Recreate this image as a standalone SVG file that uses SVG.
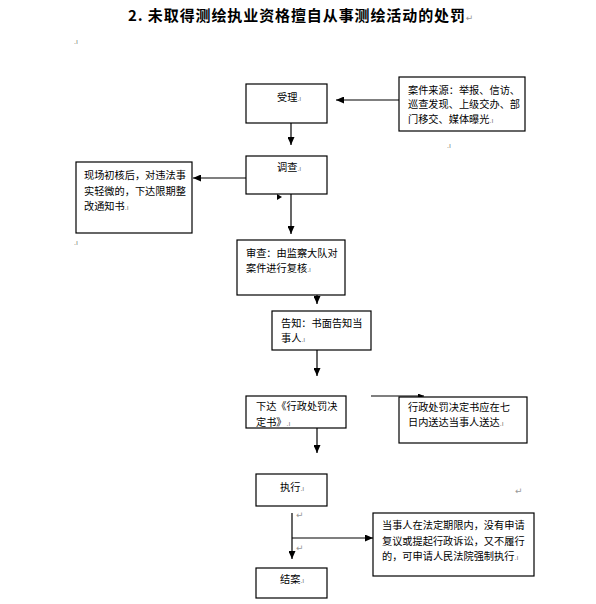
<svg xmlns="http://www.w3.org/2000/svg" width="596" height="604" viewBox="0 0 596 604">
<style>
.box{fill:#fff;stroke:#000;stroke-width:1.2}
.t{font-family:"Noto Sans CJK SC","Liberation Sans",sans-serif;font-size:10.2px;fill:#000}
.title{font-family:"Noto Sans CJK SC","Liberation Sans",sans-serif;font-size:15px;font-weight:bold;fill:#000;letter-spacing:0.9px}
.pm{font-family:"Liberation Sans",sans-serif;font-size:7px;fill:#777}
.ret{font-family:"DejaVu Sans",sans-serif;font-size:9px;fill:#999}
.c{fill:none;stroke:#000;stroke-width:1.2}
</style>
<defs>
<marker id="ah" markerUnits="userSpaceOnUse" markerWidth="8" markerHeight="7" refX="8" refY="3.5" orient="auto">
<path d="M0,0 L8,3.5 L0,7 z" fill="#000"/>
</marker>
<marker id="ahs" markerUnits="userSpaceOnUse" markerWidth="6" markerHeight="5" refX="6" refY="2.5" orient="auto">
<path d="M0,0 L6,2.5 L0,5 z" fill="#000"/>
</marker>
</defs>
<rect width="596" height="604" fill="#fff"/>
<text class="title" x="128" y="21">2. 未取得测绘执业资格擅自从事测绘活动的处罚<tspan class="ret" font-weight="normal">↵</tspan></text>
<text class="pm" x="74" y="44">.ı</text>
<text class="pm" x="447" y="148">.ı</text>
<text class="pm" x="74" y="245">.ı</text>
<text class="ret" x="515" y="494">↵</text>
<text class="ret" x="296" y="518">↵</text>
<text class="ret" x="296" y="551">↵</text>

<g id="connectors">
<line class="c" x1="399" y1="100" x2="336" y2="100" marker-end="url(#ah)"/>
<line class="c" x1="291" y1="123" x2="291" y2="145" marker-end="url(#ah)"/>
<line class="c" x1="246" y1="178" x2="193" y2="178" marker-end="url(#ah)"/>
<line class="c" x1="291" y1="194" x2="291" y2="234" marker-end="url(#ah)"/>
<polygon points="277,194 282,197 277,200" fill="#000"/>
<line class="c" x1="317" y1="295" x2="317" y2="304" marker-end="url(#ah)"/>
<line class="c" x1="317" y1="350" x2="317" y2="376" marker-end="url(#ah)"/>
<line class="c" x1="371" y1="396" x2="424" y2="396" marker-end="url(#ahs)"/>
<line class="c" x1="317" y1="428" x2="317" y2="453" marker-end="url(#ah)"/>
<line class="c" x1="292" y1="513" x2="292" y2="559" marker-end="url(#ah)"/>
<line class="c" x1="292" y1="538" x2="373" y2="538" marker-end="url(#ah)"/>
</g>

<g id="n_accept">
<rect class="box" x="246" y="84" width="81" height="39"/>
<text class="t" x="277" y="101">受理<tspan class="pm">.ı</tspan></text>
</g>
<g id="n_source">
<rect class="box" x="399" y="77" width="126" height="54"/>
<text class="t" x="408" y="94">案件来源：举报、信访、</text>
<text class="t" x="408" y="108">巡查发现、上级交办、部</text>
<text class="t" x="408" y="123">门移交、媒体曝光<tspan class="pm">.ı</tspan></text>
</g>
<g id="n_investigate">
<rect class="box" x="246" y="156" width="81" height="38"/>
<text class="t" x="277" y="171">调查<tspan class="pm">.ı</tspan></text>
</g>
<g id="n_rectify">
<rect class="box" x="76" y="162" width="116" height="71"/>
<text class="t" x="84" y="179">现场初核后，对违法事</text>
<text class="t" x="84" y="195">实轻微的，下达限期整</text>
<text class="t" x="84" y="210">改通知书<tspan class="pm">.ı</tspan></text>
</g>
<g id="n_review">
<rect class="box" x="237" y="240" width="108" height="55"/>
<text class="t" x="246" y="257">审查：由监察大队对</text>
<text class="t" x="246" y="272">案件进行复核<tspan class="pm">.ı</tspan></text>
</g>
<g id="n_notify">
<rect class="box" x="272" y="311" width="99" height="39"/>
<text class="t" x="281" y="327">告知：书面告知当</text>
<text class="t" x="281" y="342">事人<tspan class="pm">.ı</tspan></text>
</g>
<g id="n_decision">
<rect class="box" x="246" y="396" width="100" height="32"/>
<text class="t" x="256" y="410">下达《行政处罚决</text>
<text class="t" x="256" y="426">定书》<tspan class="pm">.ı</tspan></text>
</g>
<g id="n_deliver">
<rect class="box" x="399" y="397" width="128" height="46"/>
<text class="t" x="408" y="411">行政处罚决定书应在七</text>
<text class="t" x="408" y="426">日内送达当事人送达<tspan class="pm">.ı</tspan></text>
</g>
<g id="n_execute">
<rect class="box" x="256" y="474" width="71" height="32"/>
<text class="t" x="280" y="491">执行<tspan class="pm">.ı</tspan></text>
</g>
<g id="n_enforce">
<rect class="box" x="373" y="513" width="161" height="63"/>
<text class="t" x="382" y="529">当事人在法定期限内，没有申请</text>
<text class="t" x="382" y="545">复议或提起行政诉讼，又不履行</text>
<text class="t" x="382" y="560">的，可申请人民法院强制执行<tspan class="pm">.ı</tspan></text>
</g>
<g id="n_close">
<rect class="box" x="256" y="568" width="71" height="30"/>
<text class="t" x="280" y="583">结案<tspan class="pm">.ı</tspan></text>
</g>
</svg>
